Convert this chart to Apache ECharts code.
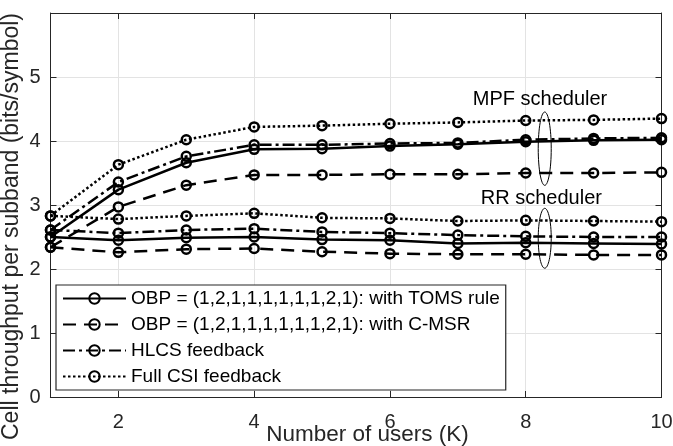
<!DOCTYPE html>
<html>
<head>
<meta charset="utf-8">
<script src="https://cdn.jsdelivr.net/npm/echarts@6/dist/echarts.min.js"></script>
<style>
  html, body { margin: 0; padding: 0; background: #fff; }
  #chart { width: 673px; height: 446px; }
</style>
</head>
<body>
<div id="chart"></div>
<script>
// Number of users K
const users = [1, 2, 3, 4, 5, 6, 7, 8, 9, 10];

// MPF scheduler curves (bits/symbol)
const tomsMpf = [2.50, 3.24, 3.66, 3.87, 3.88, 3.92, 3.95, 3.99, 4.01, 4.02];
const cmsrMpf = [2.34, 2.97, 3.31, 3.47, 3.47, 3.48, 3.48, 3.50, 3.50, 3.51];
const hlcsMpf = [2.61, 3.36, 3.76, 3.94, 3.94, 3.96, 3.97, 4.02, 4.04, 4.05];
const fullMpf = [2.83, 3.63, 4.02, 4.22, 4.24, 4.27, 4.29, 4.32, 4.33, 4.35];

// RR scheduler curves (bits/symbol)
const tomsRr = [2.50, 2.45, 2.49, 2.50, 2.46, 2.45, 2.40, 2.41, 2.40, 2.39];
const cmsrRr = [2.34, 2.26, 2.31, 2.32, 2.27, 2.24, 2.23, 2.23, 2.22, 2.22];
const hlcsRr = [2.61, 2.56, 2.61, 2.63, 2.58, 2.56, 2.53, 2.51, 2.50, 2.50];
const fullRr = [2.83, 2.78, 2.83, 2.87, 2.80, 2.79, 2.75, 2.76, 2.75, 2.74];

// Legend entries
const seriesNames = [
  'OBP = (1,2,1,1,1,1,1,1,2,1): with TOMS rule',
  'OBP = (1,2,1,1,1,1,1,1,2,1): with C-MSR',
  'HLCS feedback',
  'Full CSI feedback'
];

// Axis ticks
const xTicks = [2, 4, 6, 8, 10];
const yMin = 0, yMax = 6, yStep = 1;

const FONT = '"Liberation Sans", Arial, Helvetica, sans-serif';
const INK = '#262626';
const GRID = '#e3e3e3';

const dashes = ['solid', [13, 8], [12, 4, 3, 4], [2.5, 2.5]];

function curve(name, values, dash) {
  return {
    type: 'line',
    name: name,
    data: users.map((u, i) => [u, values[i]]),
    symbol: 'circle',
    symbolSize: 9,
    showAllSymbol: true,
    lineStyle: { color: '#000', width: 2.5, type: dash, cap: 'butt' },
    itemStyle: { color: 'rgba(0,0,0,0)', borderColor: '#000', borderWidth: 2.5 },
    emphasis: { disabled: true },
    animation: false
  };
}

const series = [
  curve(seriesNames[0], tomsMpf, dashes[0]),
  curve(seriesNames[1], cmsrMpf, dashes[1]),
  curve(seriesNames[2], hlcsMpf, dashes[2]),
  curve(seriesNames[3], fullMpf, dashes[3]),
  curve(seriesNames[0], tomsRr, dashes[0]),
  curve(seriesNames[1], cmsrRr, dashes[1]),
  curve(seriesNames[2], hlcsRr, dashes[2]),
  curve(seriesNames[3], fullRr, dashes[3])
];

const chart = echarts.init(document.getElementById('chart'), null, { renderer: 'canvas' });

const tickStyle = { color: INK, width: 1 };

chart.setOption({
  backgroundColor: '#fff',
  animation: false,
  textStyle: { fontFamily: FONT },
  grid: { left: 50.5, right: 11.5, top: 13, bottom: 49, containLabel: false, outerBoundsMode: 'none' },
  xAxis: [
    {
      type: 'value', min: 1, max: 10, position: 'bottom',
      axisLine: { show: true, onZero: false, lineStyle: { color: INK, width: 1.2 } },
      axisTick: { show: true, inside: true, length: 6, customValues: xTicks, lineStyle: tickStyle },
      axisLabel: { customValues: xTicks, margin: 15, fontSize: 20, color: INK, fontFamily: FONT },
      splitLine: { show: true, lineStyle: { color: GRID, width: 1 } },
      name: 'Number of users (K)', nameLocation: 'middle', nameGap: 26, nameMoveOverlap: false,
      nameTextStyle: { fontSize: 22.5, color: INK, fontFamily: FONT, padding: [0, 0, 0, 23] }
    },
    {
      type: 'value', min: 1, max: 10, position: 'top',
      axisLine: { show: true, onZero: false, lineStyle: { color: INK, width: 1 } },
      axisTick: { show: true, inside: true, length: 6, customValues: xTicks, lineStyle: tickStyle },
      axisLabel: { show: false },
      splitLine: { show: false }
    }
  ],
  yAxis: [
    {
      type: 'value', min: yMin, max: yMax, interval: yStep, position: 'left',
      axisLine: { show: true, onZero: false, lineStyle: { color: INK, width: 1 } },
      axisTick: { show: true, inside: true, length: 6, lineStyle: tickStyle },
      axisLabel: { margin: 10, fontSize: 20, color: INK, fontFamily: FONT,
                   formatter: v => (v === yMax ? '' : String(v)) },
      splitLine: { show: true, lineStyle: { color: GRID, width: 1 } },
      name: 'Cell throughput per subband (bits/symbol)', nameLocation: 'middle', nameGap: 27,
      nameMoveOverlap: false,
      nameTextStyle: { fontSize: 23, color: INK, fontFamily: FONT, padding: [0, 43, 0, 0] }
    },
    {
      type: 'value', min: yMin, max: yMax, interval: yStep, position: 'right',
      axisLine: { show: true, onZero: false, lineStyle: { color: INK, width: 1 } },
      axisTick: { show: true, inside: true, length: 6, lineStyle: tickStyle },
      axisLabel: { show: false },
      splitLine: { show: false }
    }
  ],
  legend: {
    show: true,
    data: seriesNames,
    orient: 'vertical',
    left: 56, top: 285,
    padding: [3.5, 6, 3.5, 6],
    itemWidth: 63, itemHeight: 13, itemGap: 6,
    backgroundColor: '#fff',
    borderColor: INK, borderWidth: 1.2, borderRadius: 0,
    selectedMode: false,
    textStyle: { fontSize: 19, lineHeight: 20, color: '#000', fontFamily: FONT }
  },
  series: series
});

// Scheduler annotations placed in data coordinates
const notes = [
  { text: 'MPF scheduler', tx: 8.21, ty: 4.65, ex: 8.28, ey: 3.88, eh: 0.573 },
  { text: 'RR scheduler', tx: 8.23, ty: 3.10, ex: 8.28, ey: 2.48, eh: 0.468 }
];
const graphics = [];
notes.forEach(n => {
  const tp = chart.convertToPixel({ gridIndex: 0 }, [n.tx, n.ty]);
  const ep = chart.convertToPixel({ gridIndex: 0 }, [n.ex, n.ey]);
  const top = chart.convertToPixel({ gridIndex: 0 }, [n.ex, n.ey + n.eh]);
  graphics.push({
    type: 'ellipse', silent: true, z: 100,
    shape: { cx: ep[0], cy: ep[1], rx: 6.5, ry: ep[1] - top[1] },
    style: { fill: 'none', stroke: '#000', lineWidth: 1 }
  });
  graphics.push({
    type: 'text', silent: true, z: 100,
    x: tp[0], y: tp[1],
    style: { text: n.text, font: '20px ' + FONT, fill: '#000', align: 'center', verticalAlign: 'middle' }
  });
});
chart.setOption({ graphic: graphics });
</script>
</body>
</html>
